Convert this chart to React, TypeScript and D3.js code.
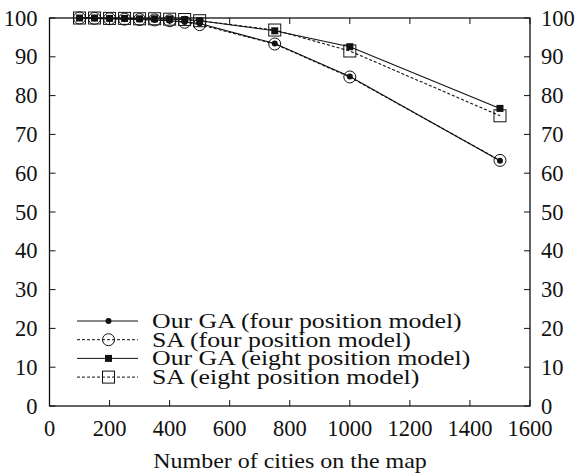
import React from "react";
import * as d3 from "d3";

// Number of cities on the map
const cities = [100, 150, 200, 250, 300, 350, 400, 450, 500, 750, 1000, 1500];

// Success rate (%) per method
const gaFour = [100, 99.9, 99.8, 99.7, 99.6, 99.5, 99.3, 99.0, 98.6, 93.4, 84.9, 63.2];
const saFour = [100, 99.9, 99.8, 99.7, 99.6, 99.5, 99.3, 98.9, 98.3, 93.3, 84.8, 63.3];
const gaEight = [100, 100, 99.9, 99.9, 99.8, 99.8, 99.7, 99.6, 99.3, 96.7, 92.6, 76.7];
const saEight = [100, 100, 99.9, 99.9, 99.8, 99.8, 99.7, 99.6, 99.3, 96.9, 91.5, 74.8];

const xTicks = [0, 200, 400, 600, 800, 1000, 1200, 1400, 1600];
const yTicks = [0, 10, 20, 30, 40, 50, 60, 70, 80, 90, 100];

const legendLabels = [
  "Our GA (four position model)",
  "SA (four position model)",
  "Our GA (eight position model)",
  "SA (eight position model)",
];

type Marker = "dot" | "circle" | "fsquare" | "square";

const series: { values: number[]; dashed: boolean; marker: Marker }[] = [
  { values: saEight, dashed: true, marker: "square" },
  { values: gaEight, dashed: false, marker: "fsquare" },
  { values: saFour, dashed: true, marker: "circle" },
  { values: gaFour, dashed: false, marker: "dot" },
];

const legendOrder: { dashed: boolean; marker: Marker }[] = [
  { dashed: false, marker: "dot" },
  { dashed: true, marker: "circle" },
  { dashed: false, marker: "fsquare" },
  { dashed: true, marker: "square" },
];

const W = 585;
const H = 476;
const left = 49.5;
const right = 530;
const top = 18;
const bottom = 406;
const ink = "#111";
const textStyle: React.CSSProperties = {
  fontFamily: '"Liberation Serif", "DejaVu Serif", "Times New Roman", serif',
};

function MarkerShape({ kind, x, y }: { kind: Marker; x: number; y: number }) {
  if (kind === "dot") return <circle cx={x} cy={y} r={3} fill={ink} />;
  if (kind === "circle")
    return <circle cx={x} cy={y} r={6} fill="none" stroke={ink} strokeWidth={1} />;
  if (kind === "fsquare")
    return <rect x={x - 3.5} y={y - 3.5} width={7} height={7} fill={ink} />;
  return (
    <rect x={x - 6} y={y - 6} width={12} height={12} fill="none" stroke={ink} strokeWidth={1} />
  );
}

export default function App() {
  const x = d3.scaleLinear().domain([0, 1600]).range([left, right]);
  const y = d3.scaleLinear().domain([0, 100]).range([bottom, top]);
  const line = d3
    .line<number>()
    .x((_, i) => x(cities[i]))
    .y((v) => y(v));

  const tick = 6;
  const tickFont = 22.5;

  return (
    <svg
      width={W}
      height={H}
      style={{ position: "absolute", left: 0, top: 0, background: "#fff" }}
    >
      <rect x={0} y={0} width={W} height={H} fill="#fff" />

      {/* ticks on all four sides, pointing inward */}
      {xTicks.map((t) => (
        <g key={"xt" + t}>
          <line x1={x(t)} x2={x(t)} y1={bottom} y2={bottom - tick} stroke={ink} />
          <line x1={x(t)} x2={x(t)} y1={top} y2={top + tick} stroke={ink} />
          <text x={x(t)} y={bottom + 30} textAnchor="middle" fontSize={tickFont} fill={ink} style={textStyle}>
            {t}
          </text>
        </g>
      ))}
      {yTicks.map((t) => (
        <g key={"yt" + t}>
          <line x1={left} x2={left + tick} y1={y(t)} y2={y(t)} stroke={ink} />
          <line x1={right} x2={right - tick} y1={y(t)} y2={y(t)} stroke={ink} />
          <text x={left - 12} y={y(t) + 7.5} textAnchor="end" fontSize={tickFont} fill={ink} style={textStyle}>
            {t}
          </text>
          <text x={right + 11} y={y(t) + 7.5} textAnchor="start" fontSize={tickFont} fill={ink} style={textStyle}>
            {t}
          </text>
        </g>
      ))}

      <rect
        x={left}
        y={top}
        width={right - left}
        height={bottom - top}
        fill="none"
        stroke={ink}
        strokeWidth={1.3}
      />

      {series.map((s, si) => (
        <g key={"s" + si}>
          <path
            d={line(s.values) || ""}
            fill="none"
            stroke={ink}
            strokeWidth={1.1}
            strokeDasharray={s.dashed ? "3,2" : undefined}
          />
          {s.values.map((v, i) => (
            <MarkerShape key={i} kind={s.marker} x={x(cities[i])} y={y(v)} />
          ))}
        </g>
      ))}

      {/* legend: wide-set serif labels */}
      {legendOrder.map((l, i) => {
        const ly = 321 + i * 18.7;
        return (
          <g key={"lg" + i}>
            <line
              x1={77}
              x2={138}
              y1={ly}
              y2={ly}
              stroke={ink}
              strokeWidth={1}
              strokeDasharray={l.dashed ? "3,2" : undefined}
            />
            <MarkerShape kind={l.marker} x={108.5} y={ly} />
            <text
              transform={`translate(152, ${ly + 7}) scale(1.26, 1)`}
              fontSize={20.5}
              fill={ink}
              style={textStyle}
            >
              {legendLabels[i]}
            </text>
          </g>
        );
      })}

      <text
        transform="translate(290, 468) scale(1.09, 1)"
        textAnchor="middle"
        fontSize={22}
        fill={ink}
        style={textStyle}
      >
        Number of cities on the map
      </text>
    </svg>
  );
}
